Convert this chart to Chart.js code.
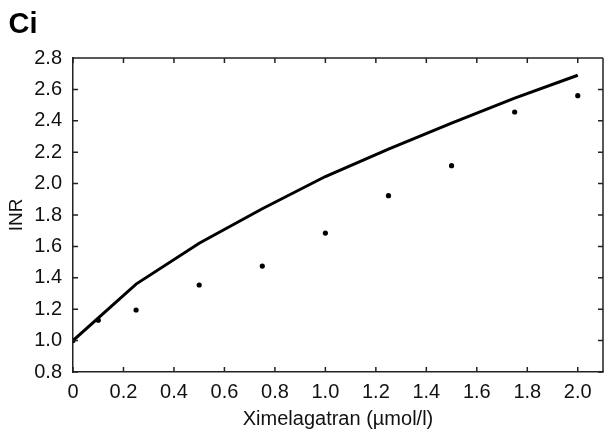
<!DOCTYPE html>
<html><head><meta charset="utf-8">
<script src="https://cdn.jsdelivr.net/npm/chart.js@4/dist/chart.umd.min.js"></script>
<style>html,body{margin:0;padding:0;background:#fff}#wrap{width:604px;height:432px}</style>
</head><body><div id="wrap"><canvas id="c"></canvas></div>
<script>
const panelLabel = "Ci";
const xTitle = "Ximelagatran (\u00b5mol/l)";
const yTitle = "INR";
const xTicks = [0, 0.2, 0.4, 0.6, 0.8, 1.0, 1.2, 1.4, 1.6, 1.8, 2.0];
const xTickLabels = ["0", "0.2", "0.4", "0.6", "0.8", "1.0", "1.2", "1.4", "1.6", "1.8", "2.0"];
const yTicks = [0.8, 1.0, 1.2, 1.4, 1.6, 1.8, 2.0, 2.2, 2.4, 2.6, 2.8];
const yTickLabels = ["0.8", "1.0", "1.2", "1.4", "1.6", "1.8", "2.0", "2.2", "2.4", "2.6", "2.8"];
const modelConc = [0, 0.25, 0.5, 0.75, 1.0, 1.25, 1.5, 1.75, 2.0];
const modelINR = [1.0, 1.36, 1.62, 1.84, 2.045, 2.22, 2.385, 2.545, 2.69];
const obsConc = [0, 0.1, 0.25, 0.5, 0.75, 1.0, 1.25, 1.5, 1.75, 2.0];
const obsINR = [1.0, 1.13, 1.195, 1.354, 1.475, 1.685, 1.923, 2.114, 2.456, 2.56];

const FONT = "'Liberation Sans', Arial, sans-serif";
const inwardTicks = {
  id: 'inwardTicks',
  afterDraw(chart) {
    const ctx = chart.ctx, a = chart.chartArea;
    const xs = chart.scales.x, ys = chart.scales.y;
    const L = 5;
    ctx.save();
    ctx.strokeStyle = '#222';
    ctx.lineWidth = 1.5;
    ctx.beginPath();
    ctx.moveTo(a.left, a.top); ctx.lineTo(a.right, a.top);
    ctx.moveTo(a.right, a.top); ctx.lineTo(a.right, a.bottom);
    xs.ticks.forEach(t => {
      const px = xs.getPixelForValue(t.value);
      ctx.moveTo(px, a.bottom); ctx.lineTo(px, a.bottom - L);
      ctx.moveTo(px, a.top); ctx.lineTo(px, a.top + L);
    });
    ys.ticks.forEach(t => {
      const py = ys.getPixelForValue(t.value);
      ctx.moveTo(a.left, py); ctx.lineTo(a.left + L, py);
      ctx.moveTo(a.right, py); ctx.lineTo(a.right - L, py);
    });
    ctx.stroke();
    ctx.fillStyle = '#000';
    ctx.font = "bold 29px " + FONT;
    ctx.textBaseline = 'alphabetic';
    ctx.textAlign = 'left';
    ctx.fillText(panelLabel, 8.5, 33);
    ctx.restore();
  }
};

new Chart(document.getElementById('c'), {
  type: 'scatter',
  data: {
    datasets: [
      {
        type: 'line',
        data: modelConc.map((x, i) => ({x: x, y: modelINR[i]})),
        borderColor: '#000',
        borderWidth: 3,
        pointRadius: 0,
        fill: false,
        tension: 0
      },
      {
        data: obsConc.map((x, i) => ({x: x, y: obsINR[i]})),
        backgroundColor: '#000',
        borderColor: '#000',
        pointRadius: 2.6,
        borderWidth: 0
      }
    ]
  },
  options: {
    responsive: true,
    maintainAspectRatio: false,
    animation: false,
    layout: {autoPadding: false, padding: {left: 0, right: 1, top: 58, bottom: 0}},
    plugins: {
      legend: {display: false},
      tooltip: {enabled: false},
      title: {display: false}
    },
    scales: {
      x: {
        type: 'linear', min: 0, max: 2.1,
        afterBuildTicks: s => { s.ticks = xTicks.map(v => ({value: v})); },
        afterFit: s => { s.height = 60; s.paddingRight = 0; s.paddingLeft = 0; },
        grid: {display: false, drawTicks: false},
        border: {display: true, color: '#222', width: 1.5},
        ticks: {
          color: '#111', font: {family: FONT, size: 20}, padding: 8, maxRotation: 0,
          callback: (v, i) => xTickLabels[i]
        },
        title: {display: true, text: xTitle, color: '#111', font: {family: FONT, size: 20}, padding: {top: 0, bottom: 1}}
      },
      y: {
        type: 'linear', min: 0.8, max: 2.8,
        afterBuildTicks: s => { s.ticks = yTicks.map(v => ({value: v})); },
        afterFit: s => { s.width = 73; },
        grid: {display: false, drawTicks: false},
        border: {display: true, color: '#222', width: 1.5},
        ticks: {
          color: '#111', font: {family: FONT, size: 20}, padding: 11,
          callback: (v, i) => yTickLabels[i]
        },
        title: {display: true, text: yTitle, color: '#111', font: {family: FONT, size: 19}, padding: {top: 5, bottom: 0}}
      }
    }
  },
  plugins: [inwardTicks]
});
</script></body></html>
